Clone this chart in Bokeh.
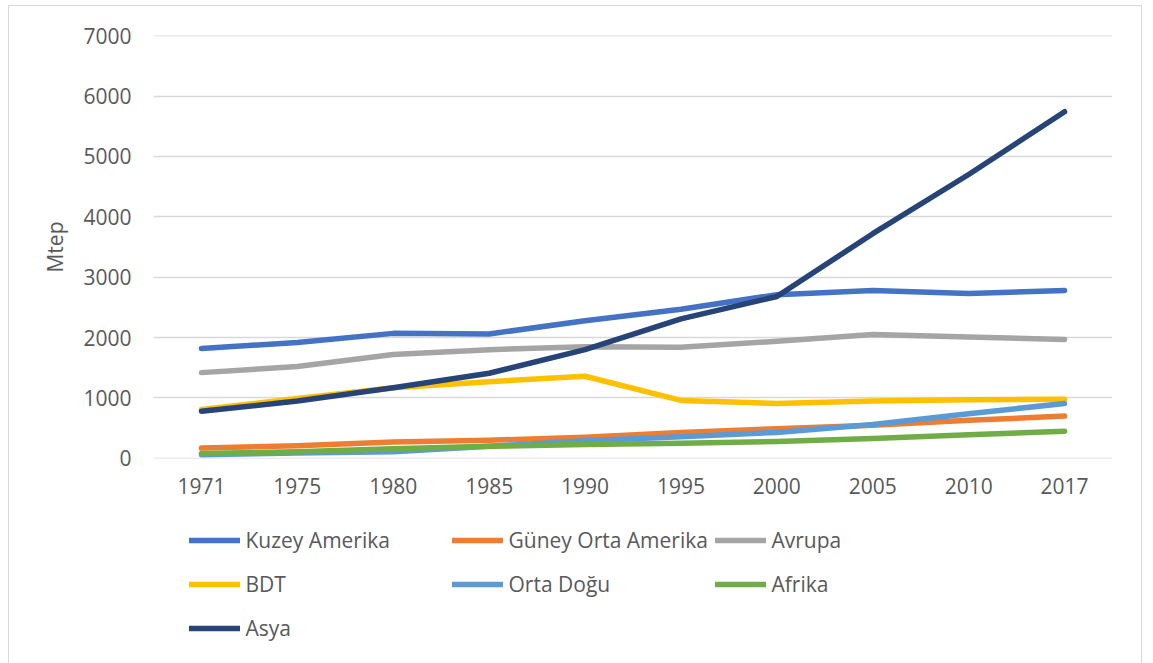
from bokeh.plotting import figure
from bokeh.layouts import column
from bokeh.models import FactorRange, Range1d, FixedTicker, Legend, LegendItem
from bokeh.embed import file_html
from bokeh.resources import INLINE

years = ["1971", "1975", "1980", "1985", "1990", "1995", "2000", "2005", "2010", "2017"]

kuzey_amerika = [1820, 1920, 2070, 2060, 2280, 2470, 2710, 2780, 2730, 2780]
guney_orta_amerika = [170, 210, 270, 300, 350, 430, 490, 550, 630, 700]
avrupa = [1420, 1520, 1720, 1800, 1850, 1840, 1940, 2050, 2010, 1970]
bdt = [810, 990, 1170, 1270, 1360, 960, 910, 950, 970, 980]
orta_dogu = [60, 90, 110, 200, 290, 360, 430, 560, 740, 910]
afrika = [80, 110, 160, 200, 230, 250, 280, 330, 390, 450]
asya = [780, 950, 1170, 1410, 1800, 2310, 2680, 3720, 4700, 5740]

series = [
    ("Kuzey Amerika", kuzey_amerika, "#4472C4"),
    ("Güney Orta Amerika", guney_orta_amerika, "#ED7D31"),
    ("Avrupa", avrupa, "#A5A5A5"),
    ("BDT", bdt, "#FFC000"),
    ("Orta Doğu", orta_dogu, "#5B9BD5"),
    ("Afrika", afrika, "#70AD47"),
    ("Asya", asya, "#264478"),
]

y_ticks = [0, 1000, 2000, 3000, 4000, 5000, 6000, 7000]

FONT = "Open Sans"
TXT = "#595959"
FS = "21px"
W = 1150

p = figure(x_range=FactorRange(*years, range_padding=0), y_range=Range1d(-2, 7002),
           width=W, height=510, output_backend="svg", toolbar_location=None,
           min_border_left=153, min_border_right=38, min_border_top=35,
           min_border_bottom=52)

p.outline_line_color = None
p.xgrid.grid_line_color = None
p.ygrid.grid_line_color = "#D9D9D9"
p.ygrid.grid_line_width = 1.5

p.yaxis.ticker = FixedTicker(ticks=y_ticks)
for ax in (p.xaxis[0], p.yaxis[0]):
    ax.axis_line_color = None
    ax.major_tick_line_color = None
    ax.minor_tick_line_color = None
    ax.major_tick_out = 0
    ax.major_tick_in = 0
    ax.major_label_text_font = FONT
    ax.major_label_text_font_size = FS
    ax.major_label_text_color = TXT
p.yaxis.major_label_standoff = 22
p.xaxis.major_label_standoff = 19
p.yaxis.axis_label = "Mtep"
p.yaxis.axis_label_text_font = FONT
p.yaxis.axis_label_text_font_size = FS
p.yaxis.axis_label_text_font_style = "normal"
p.yaxis.axis_label_text_color = TXT
p.yaxis.axis_label_standoff = 11

for name, vals, color in series:
    p.line(years, vals, line_color=color, line_width=5.5, line_cap="round",
           line_join="round")

# legend panel below the chart (legend-only line renderers, kept off-view)
lg = figure(width=W, height=153, output_backend="svg", toolbar_location=None,
            x_range=Range1d(0, 1), y_range=Range1d(0, 1), min_border=0)
lg.axis.visible = False
lg.grid.visible = False
lg.outline_line_color = None
items = []
for name, vals, color in series:
    r = lg.line([-5, -4], [-5, -5], line_color=color, line_width=5.5,
                line_cap="round")
    items.append(LegendItem(label=name, renderers=[r]))

legend = Legend(items=items, orientation="horizontal", ncols=3,
                location=(35.5, 15), padding=0, margin=0, spacing=4,
                glyph_width=51, glyph_height=40, label_height=40,
                label_width=202, label_standoff=6,
                label_text_font=FONT, label_text_font_size=FS,
                label_text_color=TXT, border_line_color=None,
                background_fill_alpha=0)
lg.add_layout(legend, "center")

layout = column(p, lg, spacing=0)
layout.stylesheets = [
    ":host { position: relative; }"
    ":host::after { content: ''; position: absolute; left: 8px; top: 5px; "
    "right: 8px; bottom: -10px; border: 1.5px solid #D9D9D9; "
    "pointer-events: none; z-index: 100; }"
]

open("out.html", "w").write(file_html(layout, INLINE))
